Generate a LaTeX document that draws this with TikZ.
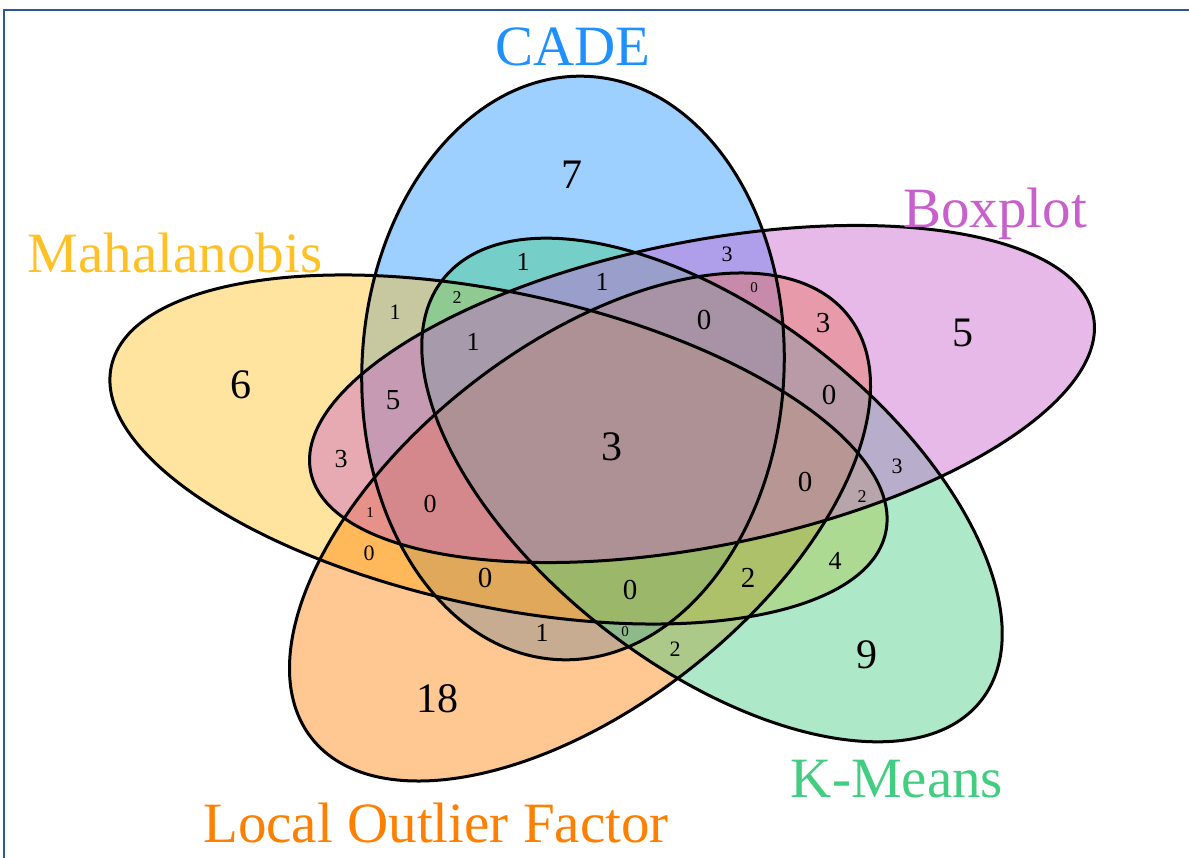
\documentclass[tikz,border=0pt]{standalone}
\usepackage{fontspec}
\setmainfont{Liberation Serif}
\definecolor{cadec}{RGB}{30,144,255}
\definecolor{mahac}{RGB}{255,193,37}
\definecolor{lofc}{RGB}{255,127,0}
\definecolor{kmc}{RGB}{67,205,128}
\definecolor{boxc}{RGB}{200,95,205}
\definecolor{framec}{RGB}{46,85,151}
\begin{document}
\begin{tikzpicture}[x=1pt,y=1pt,
  setfill/.style={fill opacity=0.43},
  setline/.style={line width=3pt, black},
  cadepos/.style={rotate around={-3:(573,489)}},
  mahapos/.style={rotate around={-12.1:(498.5,407.5)}},
  boxpos/.style={rotate around={11.25:(702,463)}},
  kmpos/.style={rotate around={-38:(712,367)}},
  lofpos/.style={rotate around={38.2:(580,330)}},
  setname/.style={font=\fontsize{57}{60}\selectfont, anchor=base, inner sep=0pt},
  nbig/.style={font=\fontsize{42}{42}\selectfont, inner sep=0pt},
  nmid/.style={font=\fontsize{29}{29}\selectfont, inner sep=0pt},
  nmed/.style={font=\fontsize{26}{26}\selectfont, inner sep=0pt},
  nsml/.style={font=\fontsize{22}{22}\selectfont, inner sep=0pt},
  nxs/.style={font=\fontsize{18}{18}\selectfont, inner sep=0pt},
  ntiny/.style={font=\fontsize{15}{15}\selectfont, inner sep=0pt}]
\useasboundingbox (0,0) rectangle (1189,857);
\fill[white] (0,0) rectangle (1189,857);

% frame
\draw[framec, line width=2.2pt] (4,-5) -- (4,847) -- (1195,847);

% set fills
\fill[cadec, setfill, cadepos] (573,489) ellipse [x radius=211pt, y radius=292pt];
\fill[mahac, setfill, mahapos] (498.5,407.5) ellipse [x radius=396pt, y radius=157pt];
\fill[lofc, setfill, lofpos] (580,330) ellipse [x radius=341.5pt, y radius=179.6pt];
\fill[kmc, setfill, kmpos] (712,367) ellipse [x radius=341.7pt, y radius=175.6pt];
\fill[boxc, setfill, boxpos] (702,463) ellipse [x radius=399pt, y radius=152.4pt];

% set outlines
\draw[setline, cadepos] (573,489) ellipse [x radius=211pt, y radius=292pt];
\draw[setline, mahapos] (498.5,407.5) ellipse [x radius=396pt, y radius=157pt];
\draw[setline, lofpos] (580,330) ellipse [x radius=341.5pt, y radius=179.6pt];
\draw[setline, kmpos] (712,367) ellipse [x radius=341.7pt, y radius=175.6pt];
\draw[setline, boxpos] (702,463) ellipse [x radius=399pt, y radius=152.4pt];

% set names
\node[setname, text=cadec] (tcade) at (573,791) {CADE};
\node[setname, text=mahac] (tmaha) at (175,584) {Mahalanobis};
\node[setname, text=boxc] (tbox) at (995,629) {Boxplot};
\node[setname, text=kmc] (tkm) at (897,59) {K-Means};
\node[setname, text=lofc] (tlof) at (436,14) {Local Outlier Factor};

% region counts
\node[nbig] (c1) at (572,682) {7};
\node[nbig] (c2) at (241,472) {6};
\node[nbig] (c3) at (963,524) {5};
\node[nbig] (c4) at (867,202) {9};
\node[nbig] (c5) at (437,158) {18};
\node[nbig] (c6) at (612,410) {3};
\node[nsml] (c7) at (395,545) {1};
\node[nxs] (c8) at (457,559) {2};
\node[nmed] (c9) at (523,595) {1};
\node[nmed] (c10) at (602,575) {1};
\node[nmed] (c11) at (473,515) {1};
\node[nmid] (c12) at (393,457) {5};
\node[nmed] (c13) at (341,398) {3};
\node[ntiny] (c14) at (370,344) {1};
\node[nmed] (c15) at (430,353) {0};
\node[nsml] (c16) at (369,304) {0};
\node[nmid] (c17) at (485,279) {0};
\node[nmid] (c18) at (630,267) {0};
\node[nmed] (c19) at (542,224) {1};
\node[ntiny] (c20) at (625,225) {0};
\node[nsml] (c21) at (675,208) {2};
\node[nmid] (c22) at (748,279) {2};
\node[nmed] (c23) at (835,296) {4};
\node[nmid] (c24) at (805,375) {0};
\node[nxs] (c25) at (862,360) {2};
\node[nsml] (c26) at (897,391) {3};
\node[nmid] (c27) at (829,462) {0};
\node[nmid] (c28) at (823,534) {3};
\node[ntiny] (c29) at (754,569) {0};
\node[nsml] (c30) at (727,603) {3};
\node[nmid] (c31) at (704,537) {0};
\end{tikzpicture}
\end{document}
